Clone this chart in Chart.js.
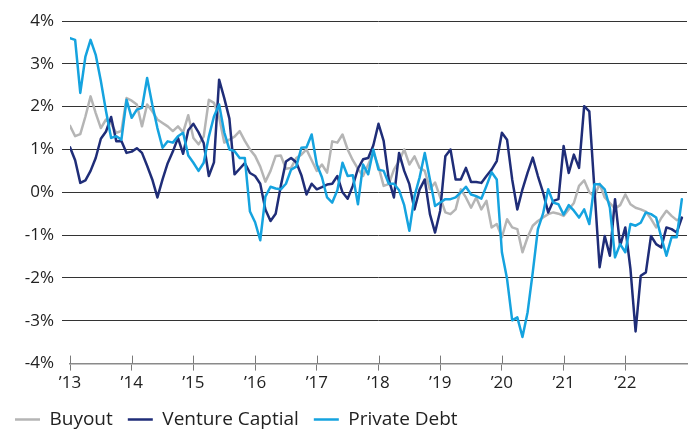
<!DOCTYPE html>
<html>
<head>
<meta charset="utf-8">
<script src="https://cdn.jsdelivr.net/npm/chart.js@4"></script>
<style>
  html, body { margin: 0; padding: 0; background: #fff; }
  #wrap { width: 694px; height: 432px; }
</style>
</head>
<body>
<div id="wrap"><canvas id="returnsChart"></canvas></div>
<script>
// Monthly series, Jan 2013 .. Dec 2022
const startYear = 2013;
const tickYears = [2013, 2014, 2015, 2016, 2017, 2018, 2019, 2020, 2021, 2022];
const tickLabels = ['\u201913', '\u201914', '\u201915', '\u201916', '\u201917', '\u201918', '\u201919', '\u201920', '\u201921', '\u201922'];

const buyout = [
  1.55, 1.31, 1.36, 1.77, 2.24, 1.85, 1.5, 1.7, 1.6, 1.39, 1.43, 2.2,
  2.14, 2.05, 1.54, 2.05, 1.89, 1.7, 1.62, 1.54, 1.43, 1.54, 1.4, 1.8,
  1.27, 1.12, 1.3, 2.16, 2.09, 1.75, 1.16, 1.23, 1.3, 1.43, 1.2, 1.0,
  0.85, 0.6, 0.25, 0.5, 0.85, 0.86, 0.55, 0.57, 0.8, 0.88, 1.0, 0.75,
  0.5, 0.65, 0.46, 1.19, 1.16, 1.35, 1.0, 0.75, 0.55, 0.38, 0.65, 0.92,
  0.6, 0.15, 0.19, 0.53, 0.73, 1.0, 0.65, 0.84, 0.57, 0.5, 0.07, 0.23,
  -0.12, -0.47, -0.51, -0.4, 0.07, -0.12, -0.36, -0.12, -0.4, -0.2, -0.82, -0.74,
  -1.05, -0.63, -0.82, -0.86, -1.4, -1.05, -0.78, -0.67, -0.59, -0.51, -0.47, -0.5,
  -0.55, -0.4, -0.25, 0.15, 0.28, 0.0, -0.1, 0.2, -0.12, -0.25, -0.38, -0.3,
  -0.05, -0.28, -0.36, -0.4, -0.45, -0.62, -0.82, -0.6, -0.43, -0.55, -0.65, -0.6
];

const ventureCapital = [
  1.05, 0.75, 0.22, 0.28, 0.5, 0.8, 1.25, 1.42, 1.76, 1.19, 1.2, 0.92,
  0.95, 1.03, 0.92, 0.62, 0.3, -0.12, 0.3, 0.68, 0.95, 1.27, 0.9, 1.45,
  1.6, 1.4, 1.15, 0.38, 0.7, 2.63, 2.2, 1.72, 0.42, 0.55, 0.68, 0.45,
  0.38, 0.2, -0.4, -0.67, -0.5, 0.15, 0.72, 0.8, 0.7, 0.4, -0.05, 0.2,
  0.07, 0.12, 0.18, 0.2, 0.38, 0.0, -0.15, 0.15, 0.55, 0.77, 0.8, 1.1,
  1.6, 1.2, 0.3, -0.12, 0.92, 0.5, 0.19, -0.4, 0.07, 0.3, -0.51, -0.94,
  -0.43, 0.84, 1.0, 0.3, 0.3, 0.57, 0.24, 0.24, 0.22, 0.38, 0.53, 0.73,
  1.39, 1.23, 0.3, -0.4, 0.07, 0.46, 0.81, 0.38, 0.0, -0.47, -0.2, -0.16,
  1.08, 0.45, 0.88, 0.57, 2.01, 1.89, 0.07, -1.75, -1.02, -1.48, -0.16, -1.25,
  -0.82, -1.79, -3.25, -1.95, -1.87, -1.02, -1.21, -1.29, -0.82, -0.86, -0.94, -0.59
];

const privateDebt = [
  3.6, 3.56, 2.32, 3.17, 3.56, 3.21, 2.6, 1.9, 1.27, 1.31, 1.23, 2.16,
  1.74, 1.93, 1.97, 2.67, 2.05, 1.5, 1.04, 1.19, 1.16, 1.31, 1.39, 0.86,
  0.69, 0.5, 0.69, 1.3, 1.77, 2.05, 1.4, 1.0, 0.96, 0.8, 0.8, -0.45,
  -0.7, -1.12, -0.1, 0.13, 0.09, 0.07, 0.2, 0.53, 0.6, 1.04, 1.05, 1.35,
  0.65, 0.35, -0.12, -0.24, 0.05, 0.69, 0.38, 0.4, -0.28, 0.65, 0.42, 1.0,
  0.53, 0.5, 0.2, 0.2, 0.05, -0.3, -0.9, -0.09, 0.35, 0.92, 0.3, -0.32,
  -0.24, -0.16, -0.16, -0.12, 0.0, 0.13, -0.05, -0.09, -0.15, 0.15, 0.47, 0.3,
  -1.4, -2.02, -2.99, -2.92, -3.38, -2.8, -1.87, -0.86, -0.5, 0.07, -0.24, -0.28,
  -0.52, -0.3, -0.43, -0.59, -0.4, -0.74, 0.19, 0.19, 0.07, -0.36, -1.52, -1.21,
  -1.4, -0.74, -0.78, -0.71, -0.47, -0.51, -0.59, -1.05, -1.48, -1.05, -1.05, -0.16
];

const FONT = "'Open Sans', 'Noto Sans', sans-serif";

function toPoints(values) {
  return values.map((v, i) => ({ x: startYear + i / 12, y: v }));
}

// Year ticks cross the axis line (up and down)
const crossTicks = {
  id: 'crossTicks',
  afterDraw(chart) {
    const x = chart.scales.x;
    const ctx = chart.ctx;
    const yAxis = chart.chartArea.bottom;
    ctx.save();
    ctx.strokeStyle = '#7a7a7a';
    ctx.lineWidth = 1;
    tickYears.forEach(year => {
      const px = Math.round(x.getPixelForValue(year)) + 0.5;
      ctx.beginPath();
      ctx.moveTo(px, yAxis - 8);
      ctx.lineTo(px, yAxis);
      ctx.stroke();
    });
    ctx.restore();
  }
};

const ctx = document.getElementById('returnsChart').getContext('2d');
new Chart(ctx, {
  type: 'line',
  data: {
    datasets: [
      { label: 'Buyout', data: toPoints(buyout), borderColor: '#b5b5b5', backgroundColor: '#b5b5b5', borderWidth: 2.5, order: 3 },
      { label: 'Venture Captial', data: toPoints(ventureCapital), borderColor: '#1f2d78', backgroundColor: '#1f2d78', borderWidth: 2.5, order: 2 },
      { label: 'Private Debt', data: toPoints(privateDebt), borderColor: '#15a3df', backgroundColor: '#15a3df', borderWidth: 2.5, order: 1 }
    ]
  },
  options: {
    responsive: true,
    maintainAspectRatio: false,
    devicePixelRatio: 1,
    animation: false,
    layout: { padding: { left: 0, right: 7, top: 21, bottom: -7 } },
    elements: {
      line: { tension: 0, borderJoinStyle: 'round', borderCapStyle: 'round' },
      point: { radius: 0, hoverRadius: 0 }
    },
    scales: {
      x: {
        type: 'linear',
        min: 2013,
        max: 2023,
        afterBuildTicks: (scale) => { scale.ticks = tickYears.map(v => ({ value: v })); },
        ticks: {
          autoSkip: false,
          maxRotation: 0,
          padding: 2,
          color: '#222',
          font: { family: FONT, size: 17 },
          callback: (v) => tickLabels[tickYears.indexOf(v)]
        },
        grid: { drawOnChartArea: false, drawTicks: true, tickLength: 7, color: '#7a7a7a' },
        border: { display: true, color: '#8a8a8a', width: 1.5 }
      },
      y: {
        min: -4,
        max: 4,
        afterFit: (scale) => { scale.width = 70; },
        ticks: {
          stepSize: 1,
          padding: 8,
          color: '#222',
          font: { family: FONT, size: 17 },
          callback: (v) => v + '%'
        },
        grid: {
          color: (c) => c.tick && c.tick.value === -4 ? 'rgba(0,0,0,0)' : '#333',
          lineWidth: 1,
          tickLength: 8
        },
        border: { display: false }
      }
    },
    plugins: {
      legend: {
        position: 'bottom',
        align: 'start',
        labels: {
          usePointStyle: true,
          pointStyle: 'line',
          pointStyleWidth: 25,
          padding: 15,
          color: '#222',
          font: { family: FONT, size: 19 },
          sort: (a, b) => a.datasetIndex - b.datasetIndex
        }
      },
      tooltip: { enabled: false }
    }
  },
  plugins: [crossTicks]
});
</script>
</body>
</html>
